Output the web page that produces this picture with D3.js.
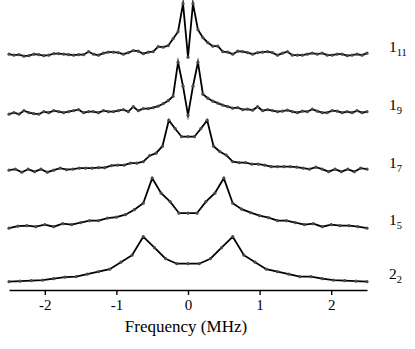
<!DOCTYPE html>
<html>
<head>
<meta charset="utf-8">
<script src="https://cdn.jsdelivr.net/npm/d3@7"></script>
<style>
  html, body { margin: 0; padding: 0; background: #fff; }
  svg { display: block; }
  text { font-family: "Liberation Serif", "Times New Roman", serif; fill: #000; }
</style>
</head>
<body>
<svg id="chart" width="415" height="349"></svg>
<script>
// ---------------- data ----------------
const seriesNames = ["1_11", "1_9", "1_7", "1_5", "2_2"];
const labelMain = ["1", "1", "1", "1", "2"];
const labelSub = ["11", "9", "7", "5", "2"];
const freqStart = -2.5;
const freqStop = 2.5;
// vertical stacking offset of each trace (intensity units)
const offsets = [454, 337, 222, 107, 0];

const s1_11 = [1,-1,0,-3,-2,1,0,-2,-1,2,2,1,0,-1,0,0,6,1,-1,3,5,5,4,1,4,8,7,2,5,6,16,15,18,32,
  46,102,-5,102,50,
  34,24,17,17,6,5,1,7,6,4,1,4,5,6,4,-1,3,6,-1,-1,-1,1,3,1,3,-1,-1,1,1,-2,-1,1,-1,3];
const s1_9 = [-2,1,-2,5,1,-1,-2,3,1,5,3,1,3,5,7,1,3,3,1,5,3,3,5,7,3,13,5,9,9,11,14,19,25,34,
  102,54,-4,54,102,
  38,30,24,20,16,13,10,11,7,8,6,13,5,7,5,3,4,6,3,1,4,3,8,4,1,1,5,4,1,3,1,5,1,3];
const s1_7 = [1,3,-3,3,-2,3,-3,1,5,2,3,5,5,5,6,6,10,11,11,15,15,18,30,35,49,
  101,84,68,68,68,84,101,
  49,38,31,18,16,16,13,13,11,8,8,8,8,7,5,3,7,3,-2,3,-2,3,-2,5,3];
const s1_5 = [0,4,5,3,7,3,9,7,11,15,15,20,22,27,37,50,
  100,70,53,30,30,30,53,70,100,
  50,38,31,25,21,15,15,11,7,9,3,7,5,5,3,0];
const s2_2 = [0,1,2,3,6,9,10,15,20,25,39,53,
  90,68,46,36,36,36,46,68,90,
  53,39,25,20,15,10,10,6,3,2,1,0];
const seriesValues = [s1_11, s1_9, s1_7, s1_5, s2_2];
const tickValues = [-2, -1, 0, 1, 2];
const xTitle = "Frequency (MHz)";

// ---------------- drawing ----------------
const svg = d3.select("#chart");
const x = d3.scaleLinear().domain([freqStart, freqStop]).range([9, 367]);
const y = d3.scaleLinear().domain([0, 570]).range([281.7, -3.3]);

const line = d3.line().x(d => x(d.f)).y(d => y(d.v));

seriesValues.forEach((vals, si) => {
  const n = vals.length;
  const pts = vals.map((v, i) => ({
    f: freqStart + (freqStop - freqStart) * i / (n - 1),
    v: v + offsets[si]
  }));
  const g = svg.append("g").attr("class", "trace-" + seriesNames[si]);
  g.append("path")
    .datum(pts)
    .attr("d", line)
    .attr("fill", "none")
    .attr("stroke", "#000")
    .attr("stroke-width", 1.8)
    .attr("stroke-linejoin", "miter")
    .attr("stroke-miterlimit", 10);
  g.selectAll("circle")
    .data(pts)
    .join("circle")
    .attr("cx", d => x(d.f))
    .attr("cy", d => y(d.v))
    .attr("r", 1.6)
    .attr("fill", "#4a4a4a");

  const t = svg.append("text")
    .attr("x", 389)
    .attr("y", y(offsets[si]) - 3)
    .attr("font-size", 15.5);
  t.append("tspan").text(labelMain[si]);
  t.append("tspan").attr("font-size", 10.5).attr("dy", 4).text(labelSub[si]);
});

// x axis
const axis = d3.axisBottom(x)
  .tickValues(tickValues)
  .tickFormat(d => String(d))
  .tickSizeInner(5)
  .tickSizeOuter(0)
  .tickPadding(4);
const ax = svg.append("g").attr("transform", "translate(0,290)").call(axis);
ax.attr("font-family", null);
ax.select(".domain").attr("stroke", "#000").attr("stroke-width", 1.4);
ax.selectAll(".tick line").attr("stroke", "#000").attr("stroke-width", 1.4);
ax.selectAll(".tick text")
  .attr("font-size", 15)
  .attr("fill", "#000");

svg.append("text")
  .attr("x", x(0) - 2)
  .attr("y", 332)
  .attr("text-anchor", "middle")
  .attr("font-size", 17)
  .text(xTitle);
</script>
</body>
</html>
